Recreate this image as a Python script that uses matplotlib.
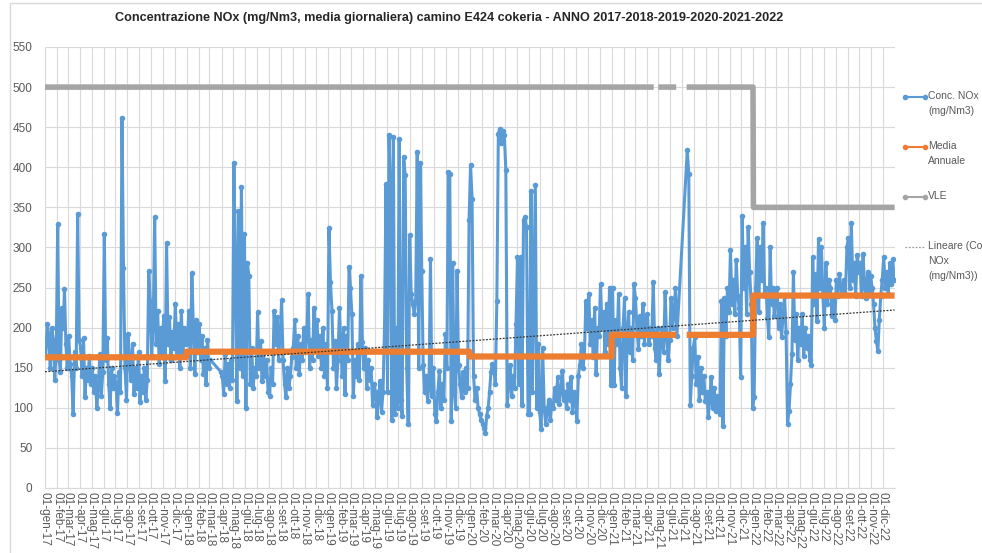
import numpy as np
import pandas as pd
import matplotlib
matplotlib.use('Agg')
import matplotlib.pyplot as plt
from matplotlib.lines import Line2D
from matplotlib.patches import Rectangle

plt.rcParams['font.family'] = ['Liberation Sans Narrow', 'Liberation Sans', 'DejaVu Sans']

title = ('Concentrazione NOx (mg/Nm3, media giornaliera) camino E424 cokeria - '
         'ANNO 2017-2018-2019-2020-2021-2022')
month_names = ['gen', 'feb', 'mar', 'apr', 'mag', 'giu',
               'lug', 'ago', 'set', 'ott', 'nov', 'dic']
years = [2017, 2018, 2019, 2020, 2021, 2022]

# concentrazione NOx, 8 letture per mese (None = dato mancante)
nox = {
    2017: [
        [165, 205, 190, 150, 200, 185, 135, 175],
        [329, 160, 145, 225, 200, 248, 180, 150],
        [190, 155, 140, 92, 170, 150, 342, 185],
        [175, 140, 187, 113, 150, 135, 165, 130],
        [150, 120, 140, 100, 125, 167, 115, 145],
        [317, 160, 187, 130, 100, 150, 125, 140],
        [130, 94, 145, 120, 462, 275, 150, 110],
        [192, 160, 135, 180, 117, 150, 125, 170],
        [107, 140, 120, 150, 110, 135, 271, 233],
        [165, 200, 338, 180, 221, 155, 200, 170],
        [215, 133, 306, 180, 213, 160, 195, 175],
        [230, 170, 205, 150, 221, 165, 200, 180],
    ],
    2018: [
        [185, 221, 150, 268, 200, 142, 210, 170],
        [204, 160, 190, 142, 175, 130, 184, 150],
        [160, None, None, None, None, None, None, 145],
        [140, 117, 167, 130, 155, 125, 160, 135],
        [405, 271, 108, 346, 150, 376, 140, 317],
        [100, 281, 265, 130, 175, 125, 150, 140],
        [219, 150, 183, 133, 170, 140, 160, 120],
        [115, 150, 130, 221, 180, 213, 160, 190],
        [234, 160, 130, 113, 150, 125, 140, 163],
        [175, 210, 150, 190, 142, 180, 160, 200],
        [170, 190, 242, 150, 185, 160, 225, 175],
        [210, 165, 190, 150, 200, 140, 180, 125],
    ],
    2019: [
        [324, 257, 221, 150, 183, 125, 160, 225],
        [175, 140, 200, 117, 190, 160, 276, 250],
        [217, 115, 160, 140, 180, 135, 264, 182],
        [150, 175, 125, 160, 135, 150, 104, 130],
        [120, 88, 110, 134, 95, 120, 200, 379],
        [120, 440, 380, 85, 438, 92, 200, 100],
        [435, 110, 90, 413, 390, 150, 80, 315],
        [242, 230, 217, 235, 419, 150, 405, 271],
        [154, 120, 140, 109, 130, 285, 115, 150],
        [92, 84, 120, 146, 100, 130, 110, 192],
        [150, 394, 391, 84, 280, 120, 100, 271],
        [154, 130, 113, 145, 120, 150, 125, 334],
    ],
    2020: [
        [403, 361, 140, 110, 125, 100, 92, 85],
        [80, 75, 69, 90, 100, 120, 145, 155],
        [150, 130, 233, 442, 448, 430, 445, 440],
        [396, 104, 130, 154, 115, 140, 125, 204],
        [288, 130, 288, 104, 334, 338, 325, 92],
        [92, 371, 120, 250, 378, 100, 180, 95],
        [73, 175, 100, 80, 95, 110, 85, 105],
        [100, 125, 110, 138, 105, 120, 146, 110],
        [120, 100, 130, 110, 138, 95, 120, 110],
        [84, 140, 154, 179, 150, 165, 233, 200],
        [242, 180, 210, 163, 225, 142, 200, 190],
        [254, 200, 220, 170, 230, 180, 250, 129],
    ],
    2021: [
        [250, 129, 210, 180, 242, 150, 125, 200],
        [237, 115, 190, 220, 170, 200, 160, 254],
        [237, 200, 173, 215, 190, 230, 180, 210],
        [217, 180, 200, 190, 257, 175, 160, 200],
        [142, 180, 200, 170, 244, 190, 160, 185],
        [237, 200, 215, 250, 190, None, None, None],
        [None, None, None, 421, 392, 104, 140, 175],
        [188, 130, 163, 110, 150, 120, 140, 109],
        [120, 88, 110, 138, 100, 125, 96, 115],
        [100, 92, 233, 77, 237, 190, 250, 220],
        [297, 230, 260, 217, 284, 240, 225, 138],
        [339, 250, 300, 217, 325, 270, 230, 100],
    ],
    2022: [
        [113, 250, 312, 220, 300, 260, 330, 240],
        [250, 212, 188, 300, 230, 250, 215, 240],
        [250, 200, 230, 188, 215, 240, 195, 80],
        [96, 130, 167, 269, 185, 217, 160, 200],
        [180, 217, 165, 200, 175, 190, 160, 154],
        [288, 230, 267, 208, 311, 250, 300, 240],
        [200, 280, 230, 260, 250, 215, 240, 210],
        [260, 240, 267, 250, 245, 260, 242, 300],
        [312, 250, 330, 260, 280, 240, 290, 270],
        [280, 240, 292, 250, 237, 270, 245, 265],
        [250, 230, 200, 183, 171, 210, 240, 260],
        [288, 250, 270, 242, 280, 255, 285, 260],
    ],
}
media_annuale = [163, 170, 170, 164, 191, 240]
vle = [500, 500, 500, 500, 500, 350]
# linea di tendenza (valori letti agli estremi)
tendenza = [145, 222]
# periodi senza dati per VLE / media
gaps_vle = [('2021-04-20', '2021-04-30'), ('2021-06-17', '2021-07-12')]
gaps_media = [('2021-06-17', '2021-07-12')]

# --- serie NOx: date distribuite nel mese
dates, vals = [], []
for y in years:
    for m, month_vals in enumerate(nox[y]):
        start = pd.Timestamp(y, m + 1, 1)
        ndays = start.days_in_month
        for i, v in enumerate(month_vals):
            if v is None:
                continue
            dates.append(start + pd.Timedelta(days=(i + 0.5) * ndays / len(month_vals)))
            vals.append(v)
dates = pd.DatetimeIndex(dates)
vals = np.array(vals, dtype=float)

# --- serie giornaliere VLE e media annuale
days = pd.date_range('2017-01-01', '2022-12-31', freq='D')
vle_d = pd.Series([vle[years.index(d.year)] for d in days], index=days, dtype=float)
media_d = pd.Series([media_annuale[years.index(d.year)] for d in days], index=days, dtype=float)
for a, b in gaps_vle:
    vle_d[a:b] = np.nan
for a, b in gaps_media:
    media_d[a:b] = np.nan

fig = plt.figure(figsize=(9.82, 5.53), dpi=100)
ax = fig.add_axes([45 / 982, 1 - 488 / 553, 850 / 982, 441 / 553])

ax.plot(vle_d.index, vle_d.values, color='#A5A5A5', lw=4, solid_capstyle='butt', zorder=3)
ax.plot(dates, vals, color='#5B9BD5', lw=2.2, marker='o', ms=4, mew=0, zorder=4)
ax.plot(media_d.index, media_d.values, color='#ED7D31', lw=4.5, solid_capstyle='butt', zorder=5)
ax.plot([days[0], days[-1]], tendenza, color='#333333', lw=0.9, ls=(0, (1.5, 1.2)), zorder=6)

ax.set_ylim(0, 550)
ax.set_yticks(np.arange(0, 551, 50))
ax.set_xlim(days[0], days[-1] + pd.Timedelta(days=1))
ticks = [pd.Timestamp(y, m, 1) for y in years for m in range(1, 13)]
ax.set_xticks(ticks)
ax.set_xticklabels([f'01-{month_names[t.month - 1]}-{str(t.year)[2:]}' for t in ticks],
                   rotation=270, fontsize=8.5, color='#595959')
ax.tick_params(axis='y', labelsize=8.5, colors='#595959', length=0, pad=9)
ax.tick_params(axis='x', length=0, pad=3)
ax.grid(True, color='#D9D9D9', lw=0.8)
ax.set_axisbelow(True)
for s in ['left', 'right', 'top']:
    ax.spines[s].set_visible(False)
ax.spines['bottom'].set_color('#D9D9D9')

fig.text(449 / 982, 1 - 18 / 553, title, ha='center', va='center',
         fontsize=9.1, fontweight='bold', color='#262626')

# legenda a destra
leg = [
    ('Conc. NOx\n(mg/Nm3)', dict(color='#5B9BD5', lw=1.5, marker='o', ms=3), 97),
    ('Media\nAnnuale', dict(color='#ED7D31', lw=1.5, marker='o', ms=3), 147),
    ('VLE', dict(color='#A5A5A5', lw=1.5, marker='o', ms=3), 197),
    ('Lineare (Conc.\nNOx\n(mg/Nm3))', dict(color='#A0A0A0', lw=0.9, ls=(0, (1.5, 1.2))), 247),
]
for label, style, py in leg:
    fy = 1 - py / 553
    fig.add_artist(Line2D([905 / 982, 925 / 982], [fy, fy], transform=fig.transFigure, **style))
    fig.text(928 / 982, fy + 6 / 553, label, ha='left', va='top',
             fontsize=7.5, color='#595959', linespacing=1.6)

fig.add_artist(Rectangle((10 / 982, -0.05), 1.0, 1.05 - 3 / 553, transform=fig.transFigure,
                         fill=False, edgecolor='#D9D9D9', lw=1))

fig.savefig('out.png', dpi=100)
